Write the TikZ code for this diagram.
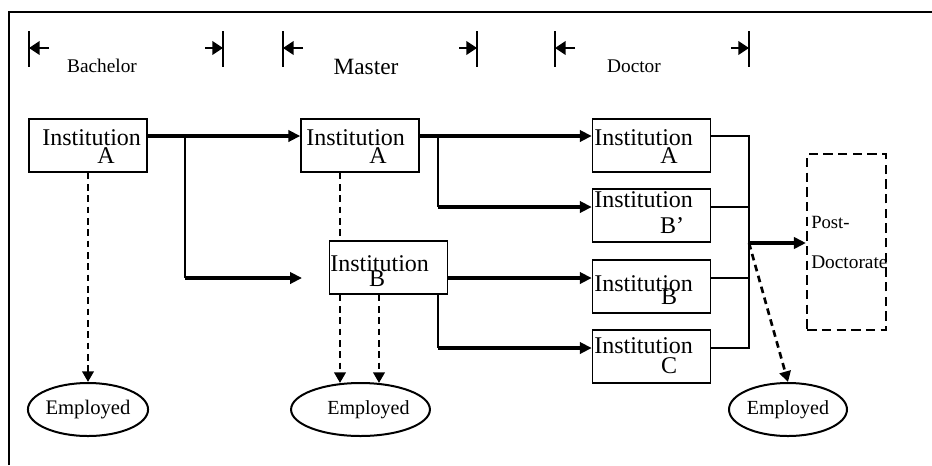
\documentclass[tikz,border=0pt]{standalone}
\usepackage{fontspec}
\setmainfont{Liberation Serif}
\usetikzlibrary{arrows.meta,shapes.geometric,calc}
\begin{document}
\begin{tikzpicture}[x=0.75pt,y=-0.75pt,
  inst/.style={draw,line width=1.1pt,minimum width=88.5pt,minimum height=39.75pt,inner sep=0pt},
  emp/.style={draw,ellipse,line width=1.5pt,minimum width=88.5pt,minimum height=39.75pt,inner sep=0pt},
  txt/.style={inner sep=0pt,font=\fontsize{18}{20}\selectfont},
  thickarrow/.style={line width=2.3pt,-{Triangle[length=9pt,width=8.5pt]}},
  thinline/.style={line width=1.1pt},
  dasharrow/.style={line width=2pt,dash pattern=on 5pt off 3.5pt,-{Triangle[length=8pt,width=8.5pt]}},
  markarrow/.style={line width=2.2pt,-{Triangle[length=8pt,width=10pt]}},
  bar/.style={line width=1pt}]
\useasboundingbox (0,0) rectangle (932,465);
% frame
\draw[line width=1.1pt] (9,465) -- (9,12) -- (932,12);
% period markers
\foreach \xa/\xb in {29/223,283/477,555/749}{
  \draw[bar] (\xa,31) -- (\xa,67);
  \draw[bar] (\xb,31) -- (\xb,67);
  \draw[markarrow] (\xa+20,48) -- (\xa,48);
  \draw[markarrow] (\xb-18,48) -- (\xb,48);
}
\node[inner sep=0pt,font=\fontsize{14.5}{16}\selectfont] (lbach) at (102,66) {Bachelor};
\node[inner sep=0pt,font=\fontsize{17.5}{19}\selectfont] (lmast) at (366,67) {Master};
\node[inner sep=0pt,font=\fontsize{14.5}{16}\selectfont] (ldoct) at (634,66) {Doctor};
% boxes
\node[inst] (BA) at (88,145.5) {};
\node[inst] (MA) at (360,145.5) {};
\node[inst] (MB) at (388.5,267.5) {};
\node[inst] (DA) at (651.5,145.5) {};
\node[inst] (DBp) at (651.5,215.5) {};
\node[inst] (DB) at (651.5,286.5) {};
\node[inst] (DC) at (651.5,356.5) {};
\node[draw,line width=1.9pt,dash pattern=on 7pt off 4pt,minimum width=59pt,minimum height=132pt,inner sep=0pt] (PD) at (846.5,242) {};
% box texts
\node[txt,anchor=west] (tBA) at (42,138) {Institution};
\node[txt] (tBA2) at (106,156) {A};
\node[txt,anchor=west] (tMA) at (306,138) {Institution};
\node[txt] (tMA2) at (378,156) {A};
\node[txt,anchor=west] (tMB) at (330,264) {Institution};
\node[txt] (tMB2) at (377,279) {B};
\node[txt,anchor=west] (tDA) at (594,138) {Institution};
\node[txt] (tDA2) at (669,156) {A};
\node[txt,anchor=west] (tDBp) at (594,200) {Institution};
\node[txt] (tDBp2) at (672,226) {B’};
\node[txt,anchor=west] (tDB) at (594,284) {Institution};
\node[txt] (tDB2) at (669,297) {B};
\node[txt,anchor=west] (tDC) at (594,346) {Institution};
\node[txt] (tDC2) at (669,366) {C};
\node[inner sep=0pt,anchor=west,font=\fontsize{14}{16}\selectfont] (pd1) at (811,222) {Post-};
\node[inner sep=0pt,anchor=west,font=\fontsize{14.5}{16}\selectfont] (pd2) at (811,262) {Doctorate};
% employed
\node[emp,font=\fontsize{15.5}{17}\selectfont] (E1) at (88,409.5) {Employed};
\node[emp,font=\fontsize{15}{17}\selectfont] (E2) at (360.5,409.5) {\hspace{12pt}Employed};
\node[emp,font=\fontsize{15}{17}\selectfont] (E3) at (788,409.5) {Employed\hspace{10pt}};
% connectors
\coordinate (r1) at (185,136);
\coordinate (f1) at (302,278);
\draw[thickarrow] (BA.east |- r1) -- (MA.west |- r1);
\draw[thinline] (r1) -- (r1 |- f1);
\draw[thickarrow] (r1 |- f1) -- (f1);
\coordinate (r2) at (438,136);
\coordinate (r2b) at (438,207);
\draw[thickarrow] (MA.east |- r2) -- (DA.west |- r2);
\draw[thinline] (r2) -- (r2b);
\draw[thickarrow] (r2b) -- (DBp.west |- r2b);
\coordinate (r3) at (438,278);
\coordinate (r3b) at (438,348);
\draw[thickarrow] (MB.east |- r3) -- (DB.west |- r3);
\draw[thinline] (r3b |- MB.south) -- (r3b);
\draw[thickarrow] (r3b) -- (DC.west |- r3b);
% right collector
\coordinate (c) at (749,0);
\coordinate (m) at (749,243);
\draw[thinline] (DA.east |- r2) -- (c |- r2) -- (c |- r3b) -- (DC.east |- r3b);
\draw[thinline] (DBp.east |- r2b) -- (c |- r2b);
\draw[thinline] (DB.east |- r3) -- (c |- r3);
\draw[thickarrow] (m) -- (PD.west |- m);
\draw[dasharrow] (m) -- (E3.north);
% dashed to employed
\coordinate (d2) at (340,0);
\coordinate (d3) at (379,0);
\draw[dasharrow] (BA.south) -- (E1.north);
\draw[line width=2pt,dash pattern=on 5pt off 3.5pt] (MA.south -| d2) -- (MB.north -| d2);
\draw[dasharrow] (MB.south -| d2) -- ($(E2.north -| d2)+(0,1)$);
\draw[dasharrow] (MB.south -| d3) -- ($(E2.north -| d3)+(0,1)$);
\end{tikzpicture}
\end{document}
